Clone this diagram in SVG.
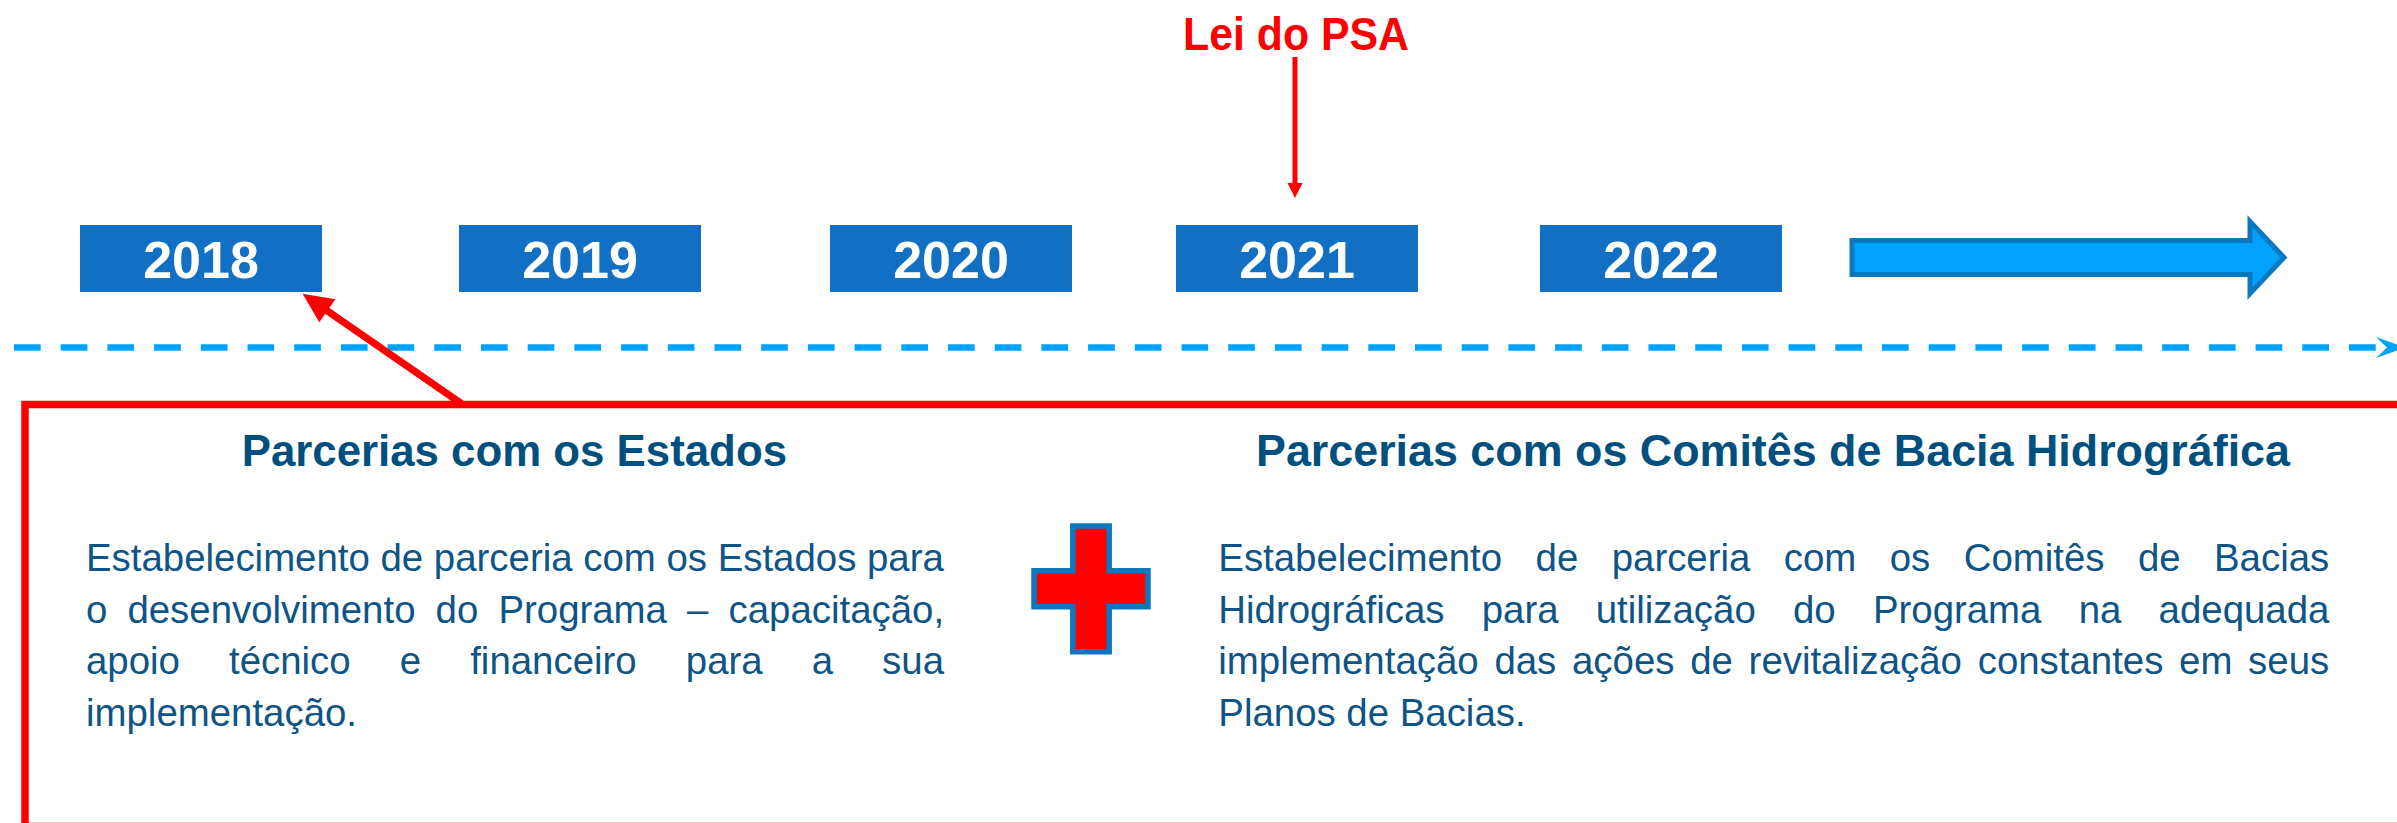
<svg xmlns="http://www.w3.org/2000/svg" width="2397" height="823" viewBox="0 0 2397 823">
<style>
.yr{fill:#1270C4}
.yt{font-family:"Liberation Sans",Arial,sans-serif;font-weight:bold;font-size:52px;fill:#FFFFFF;text-anchor:middle}
.hd{font-family:"Liberation Sans",Arial,sans-serif;font-weight:bold;font-size:45px;fill:#00507F}
.bd{font-family:"Liberation Sans",Arial,sans-serif;font-size:38.4px;fill:#0E5486}
.lei{font-family:"Liberation Sans",Arial,sans-serif;font-weight:bold;font-size:46px;fill:#FF0000}
</style>
<rect width="2397" height="823" fill="#FFFFFF"/>

<g id="panel">
<path d="M2420,826.5 H25 V404.5 H2420" stroke="#FF0000" stroke-width="7.5" fill="none"/>
</g>

<g id="connectors">
<line x1="14" y1="347.5" x2="2378" y2="347.5" stroke="#00A2FF" stroke-width="6.5" stroke-dasharray="26.7 20"/>
<polygon points="2376,337 2405,347.5 2376,358 2387,347.5" fill="#00A2FF"/>
<line x1="462" y1="404" x2="326" y2="310" stroke="#FF0000" stroke-width="7"/>
<polygon points="302.6,293.7 335.3,299.3 319.3,322.3" fill="#FF0000"/>
<line x1="1295" y1="57" x2="1295" y2="184" stroke="#FF0000" stroke-width="5"/>
<polygon points="1287.5,183 1302.5,183 1295,198" fill="#FF0000"/>
</g>

<g id="lei">
<text class="lei" x="1183" y="50" textLength="226" lengthAdjust="spacingAndGlyphs">Lei do PSA</text>
</g>

<g id="y2018"><rect class="yr" x="80" y="225" width="242" height="67"/><text class="yt" x="201" y="277.5">2018</text></g>
<g id="y2019"><rect class="yr" x="459" y="225" width="242" height="67"/><text class="yt" x="580" y="277.5">2019</text></g>
<g id="y2020"><rect class="yr" x="830" y="225" width="242" height="67"/><text class="yt" x="951" y="277.5">2020</text></g>
<g id="y2021"><rect class="yr" x="1176" y="225" width="242" height="67"/><text class="yt" x="1297" y="277.5">2021</text></g>
<g id="y2022"><rect class="yr" x="1540" y="225" width="242" height="67"/><text class="yt" x="1661" y="277.5">2022</text></g>

<g id="bigArrow">
<path d="M1852,240.5 H2250 V221.5 L2284,257.5 L2250,293.5 V274.5 H1852 Z" fill="#00A2FF" stroke="#0A78BE" stroke-width="5"/>
</g>

<g id="estados">
<text class="hd" x="241.7" y="466" textLength="545.3" lengthAdjust="spacingAndGlyphs">Parcerias com os Estados</text>
<text class="bd" y="571"><tspan x="86">Estabelecimento de parceria com os Estados para</tspan></text>
<text class="bd" y="622.5"><tspan x="86">o</tspan><tspan x="127.4">desenvolvimento</tspan><tspan x="435.6">do</tspan><tspan x="498.4">Programa</tspan><tspan x="687.1">–</tspan><tspan x="728.5">capacitação,</tspan></text>
<text class="bd" y="674"><tspan x="86">apoio</tspan><tspan x="229">técnico</tspan><tspan x="399.8">e</tspan><tspan x="470.2">financeiro</tspan><tspan x="685.8">para</tspan><tspan x="811.7">a</tspan><tspan x="882.1">sua</tspan></text>
<text class="bd" x="86" y="726">implementação.</text>
</g>

<g id="plus">
<path d="M1072.8,526 H1109.2 V570.7 H1148 V606.8 H1109.2 V651.8 H1072.8 V606.8 H1034 V570.7 H1072.8 Z" fill="#FF0000" stroke="#0A78BE" stroke-width="5.5"/>
</g>

<g id="comites">
<text class="hd" x="1256" y="466" textLength="1034" lengthAdjust="spacingAndGlyphs">Parcerias com os Comitês de Bacia Hidrográfica</text>
<text class="bd" y="571"><tspan x="1218.3">Estabelecimento</tspan><tspan x="1535.6">de</tspan><tspan x="1611.7">parceria</tspan><tspan x="1783.8">com</tspan><tspan x="1889.7">os</tspan><tspan x="1963.7">Comitês</tspan><tspan x="2137.9">de</tspan><tspan x="2214">Bacias</tspan></text>
<text class="bd" y="622.5"><tspan x="1218.3">Hidrográficas</tspan><tspan x="1481.7">para</tspan><tspan x="1595.7">utilização</tspan><tspan x="1793">do</tspan><tspan x="1872.9">Programa</tspan><tspan x="2078.7">na</tspan><tspan x="2158.6">adequada</tspan></text>
<text class="bd" y="674"><tspan x="1218.3">implementação</tspan><tspan x="1494.4">das</tspan><tspan x="1572">ações</tspan><tspan x="1690.2">de</tspan><tspan x="1748.6">revitalização</tspan><tspan x="1977.7">constantes</tspan><tspan x="2179.1">em</tspan><tspan x="2248.1">seus</tspan></text>
<text class="bd" x="1218.3" y="726">Planos de Bacias.</text>
</g>
</svg>
